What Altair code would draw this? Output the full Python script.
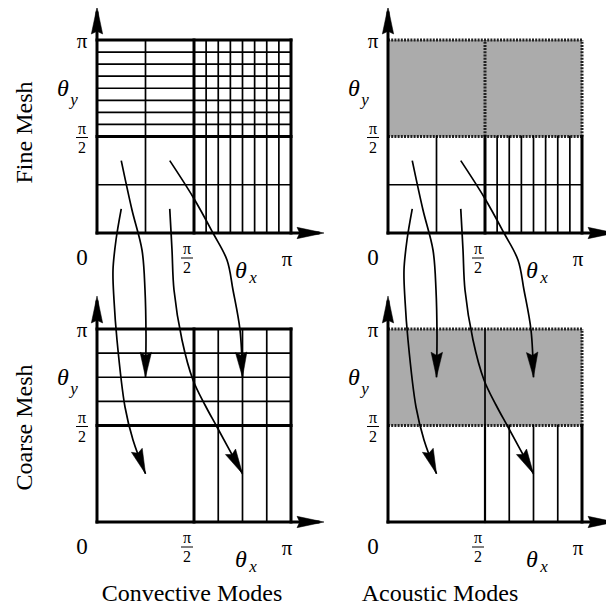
import math
import altair as alt
import pandas as pd

# ---------------- values (angles in units of pi) ----------------
FINE_LINES = [0.25, 0.5625, 0.625, 0.6875, 0.75, 0.8125, 0.875, 0.9375]
COARSE_LINES = [0.625, 0.75, 0.875]
HALF = 0.5
FINE_AC_LOWER_H = [0.25]

# transfer arrows: fine-mesh cell centre -> coarse-mesh cell centre
ARROW_FROM = [(0.125, 0.375), (0.125, 0.125), (0.375, 0.125), (0.375, 0.375)]
ARROW_TO = [(0.25, 0.75), (0.25, 0.25), (0.75, 0.25), (0.75, 0.75)]
# waypoints (dx from the column's left edge, page y)
ARROW_PATHS = [
    [(35, 210), (45, 250), (48, 290), (49, 335)],
    [(19, 240), (16, 270), (17, 300), (20, 340), (28, 407), (36, 440)],
    [(75, 250), (77, 290), (85, 340), (96, 380), (108, 405), (120, 427)],
    [(96, 197), (116, 233), (130, 260), (136, 290), (143, 330)],
]

ROW_NAMES = ["Fine Mesh", "Coarse Mesh"]
COL_NAMES = ["Convective Modes", "Acoustic Modes"]
T_PI, T_ZERO, T_NUM, T_DEN = "π", "0", "π", "2"
THETA, SUB_X, SUB_Y = "θ", "x", "y"

# ---------------- layout ----------------
COL_X0 = [97, 388]
ROW_YB = [233, 522]
W, H = 194, 193
OVER = 33
THIN, THICK = 1.7, 3.0
FONT = "Liberation Serif"


def P(c, r, u, v):
    return COL_X0[c] + u * W, ROW_YB[r] - v * H


segs, dsegs, rects = [], [], []


def seg(c, r, u1, v1, u2, v2, w, dashed=False):
    x1, y1 = P(c, r, u1, v1)
    x2, y2 = P(c, r, u2, v2)
    (dsegs if dashed else segs).append(dict(x=x1, y=y1, x2=x2, y2=y2, w=w))


# Fine mesh, convective
for u in FINE_LINES:
    seg(0, 0, u, 0, u, 1, THIN)
    seg(0, 0, 0, u, 1, u, THIN)
seg(0, 0, HALF, 0, HALF, 1, THICK)
seg(0, 0, 0, HALF, 1, HALF, THICK)
seg(0, 0, 0, 1, 1, 1, THICK)
seg(0, 0, 1, 0, 1, 1, THICK)

# Fine mesh, acoustic
x1, y1 = P(1, 0, 0, HALF); x2, y2 = P(1, 0, 1, 1)
rects.append(dict(x=x1, y=y1, x2=x2, y2=y2))
for u in FINE_LINES:
    seg(1, 0, u, 0, u, HALF, THIN)
for v in FINE_AC_LOWER_H:
    seg(1, 0, 0, v, 1, v, THIN)
seg(1, 0, HALF, 0, HALF, HALF, THICK)
seg(1, 0, HALF, HALF, HALF, 1, THICK, True)
seg(1, 0, 1, 0, 1, HALF, THICK)
seg(1, 0, 1, HALF, 1, 1, THICK, True)
seg(1, 0, 0, 1, 1, 1, THICK, True)
seg(1, 0, 0, HALF, 1, HALF, THICK, True)

# Coarse mesh, convective
for u in COARSE_LINES:
    seg(0, 1, u, 0, u, 1, THIN)
    seg(0, 1, 0, u, 1, u, THIN)
seg(0, 1, HALF, 0, HALF, 1, THICK)
seg(0, 1, 0, HALF, 1, HALF, THICK)
seg(0, 1, 0, 1, 1, 1, THICK)
seg(0, 1, 1, 0, 1, 1, THICK)

# Coarse mesh, acoustic
x1, y1 = P(1, 1, 0, HALF); x2, y2 = P(1, 1, 1, 1)
rects.append(dict(x=x1, y=y1, x2=x2, y2=y2))
for u in COARSE_LINES:
    seg(1, 1, u, 0, u, HALF, THIN)
seg(1, 1, HALF, 0, HALF, HALF, 2.2)
seg(1, 1, HALF, HALF, HALF, 1, THIN)
seg(1, 1, 1, 0, 1, HALF, THICK)
seg(1, 1, 1, HALF, 1, 1, THICK, True)
seg(1, 1, 0, 1, 1, 1, THICK, True)
seg(1, 1, 0, HALF, 1, HALF, THICK, True)

# axes with arrow heads
heads = []
for c in range(2):
    for r in range(2):
        x0, yb = P(c, r, 0, 0)
        segs.append(dict(x=x0, y=yb, x2=x0, y2=yb - H - OVER + 6, w=THICK))
        segs.append(dict(x=x0, y=yb, x2=x0 + W + OVER - 6, y2=yb, w=THICK))
        heads.append(dict(x=x0, y=yb - H - OVER, a=0, k="axis"))
        heads.append(dict(x=x0 + W + OVER, y=yb, a=90, k="axis"))

# curved arrows
curve_rows = []
for c in range(2):
    for i, (st, en, way) in enumerate(zip(ARROW_FROM, ARROW_TO, ARROW_PATHS)):
        sx, sy = P(c, 0, *st)
        ex, ey = P(c, 1, *en)
        pts = [(sx, sy)] + [(COL_X0[c] + dx, y) for dx, y in way] + [(ex, ey)]
        for j, (px, py) in enumerate(pts):
            curve_rows.append(dict(x=px, y=py, g=f"{c}-{i}", o=j))
        lx, ly = pts[-2]
        ang = math.degrees(math.atan2(ex - lx, -(ey - ly))) % 360
        heads.append(dict(x=ex, y=ey, a=ang, k="curve"))

# ---------------- text ----------------
up_txt, it_txt, fracbars = [], [], []
for c in range(2):
    for r in range(2):
        x0, yb = P(c, r, 0, 0)
        top = yb - H
        up_txt.append(dict(x=x0 - 15, y=top + 2, t=T_PI, s=21))
        up_txt.append(dict(x=x0 - 15, y=yb + 25, t=T_ZERO, s=23))
        up_txt.append(dict(x=x0 + W - 4, y=yb + 27, t=T_PI, s=21))
        # pi/2 on y axis
        _, yh = P(c, r, 0, HALF)
        up_txt.append(dict(x=x0 - 15, y=yh - 8, t=T_NUM, s=16))
        up_txt.append(dict(x=x0 - 15, y=yh + 11, t=T_DEN, s=16))
        fracbars.append(dict(x=x0 - 21, x2=x0 - 9, y=yh + 1))
        # pi/2 on x axis
        xh, _ = P(c, r, HALF, 0)
        up_txt.append(dict(x=xh - 7, y=yb + 16, t=T_NUM, s=16))
        up_txt.append(dict(x=xh - 7, y=yb + 35, t=T_DEN, s=16))
        fracbars.append(dict(x=xh - 13, x2=xh - 1, y=yb + 25))
        # theta labels
        it_txt.append(dict(x=x0 - 34, y=top + 49, t=THETA, s=24))
        it_txt.append(dict(x=x0 - 23, y=top + 60, t=SUB_Y, s=17))
        it_txt.append(dict(x=x0 + 144, y=yb + 38, t=THETA, s=24))
        it_txt.append(dict(x=x0 + 156, y=yb + 45, t=SUB_X, s=17))

cap_txt = [
    dict(x=192, y=594, t=COL_NAMES[0], s=24),
    dict(x=440, y=594, t=COL_NAMES[1], s=24),
]
row_txt = [
    dict(x=25, y=(ROW_YB[0] - H / 2) - 4, t=ROW_NAMES[0], s=24),
    dict(x=25, y=(ROW_YB[1] - H / 2) + 2, t=ROW_NAMES[1], s=24),
]

# ---------------- chart ----------------
XS = alt.Scale(domain=[8, 606], nice=False, zero=False)
YS = alt.Scale(domain=[608, 8], nice=False, zero=False)


def X(f="x"):
    return alt.X(f"{f}:Q", scale=XS, axis=None)


def Y(f="y"):
    return alt.Y(f"{f}:Q", scale=YS, axis=None)


gray = alt.Chart(pd.DataFrame(rects)).mark_rect(color="#ababab").encode(
    x=X(), x2="x2:Q", y=Y(), y2="y2:Q")

solid = alt.Chart(pd.DataFrame(segs)).mark_rule(color="black", strokeCap="square").encode(
    x=X(), x2="x2:Q", y=Y(), y2="y2:Q",
    strokeWidth=alt.StrokeWidth("w:Q", scale=None))

dashed = alt.Chart(pd.DataFrame(dsegs)).mark_rule(color="#222222", strokeDash=[2, 1.2]).encode(
    x=X(), x2="x2:Q", y=Y(), y2="y2:Q",
    strokeWidth=alt.StrokeWidth("w:Q", scale=None))

curves = alt.Chart(pd.DataFrame(curve_rows)).mark_line(
    color="black", strokeWidth=1.7, interpolate="catmull-rom").encode(
    x=X(), y=Y(), detail="g:N", order="o:Q")

hd = pd.DataFrame(heads)
axis_heads = alt.Chart(hd[hd.k == "axis"]).mark_point(
    shape="M0,0L0.42,2L0,1.8L-0.42,2Z", size=729, filled=True, color="black",
    opacity=1, strokeWidth=0.5, stroke="black").encode(
    x=X(), y=Y(), angle=alt.Angle("a:Q", scale=None))
curve_heads = alt.Chart(hd[hd.k == "curve"]).mark_point(
    shape="M0,0L0.46,2L0,1.75L-0.46,2Z", size=625, filled=True, color="black",
    opacity=1, strokeWidth=0.5, stroke="black").encode(
    x=X(), y=Y(), angle=alt.Angle("a:Q", scale=None))

bars = alt.Chart(pd.DataFrame(fracbars)).mark_rule(color="black", strokeWidth=1).encode(
    x=X(), x2="x2:Q", y=Y())


def text_layer(rows, italic=False, angle=0):
    kw = dict(font=FONT, color="black", align="center", baseline="middle")
    if italic:
        kw["fontStyle"] = "italic"
    if angle:
        kw["angle"] = angle
    return alt.Chart(pd.DataFrame(rows)).mark_text(**kw).encode(
        x=X(), y=Y(), text="t:N", size=alt.Size("s:Q", scale=None))


chart = alt.layer(
    gray, dashed, solid, curves, axis_heads, curve_heads, bars,
    text_layer(up_txt), text_layer(it_txt, italic=True),
    text_layer(cap_txt), text_layer(row_txt, angle=270),
).properties(
    width=598, height=600, padding=0,
    autosize=alt.AutoSizeParams(type="none"),
).configure_view(stroke=None)

chart.save("out.html", embed_options={"renderer": "svg", "actions": False})
